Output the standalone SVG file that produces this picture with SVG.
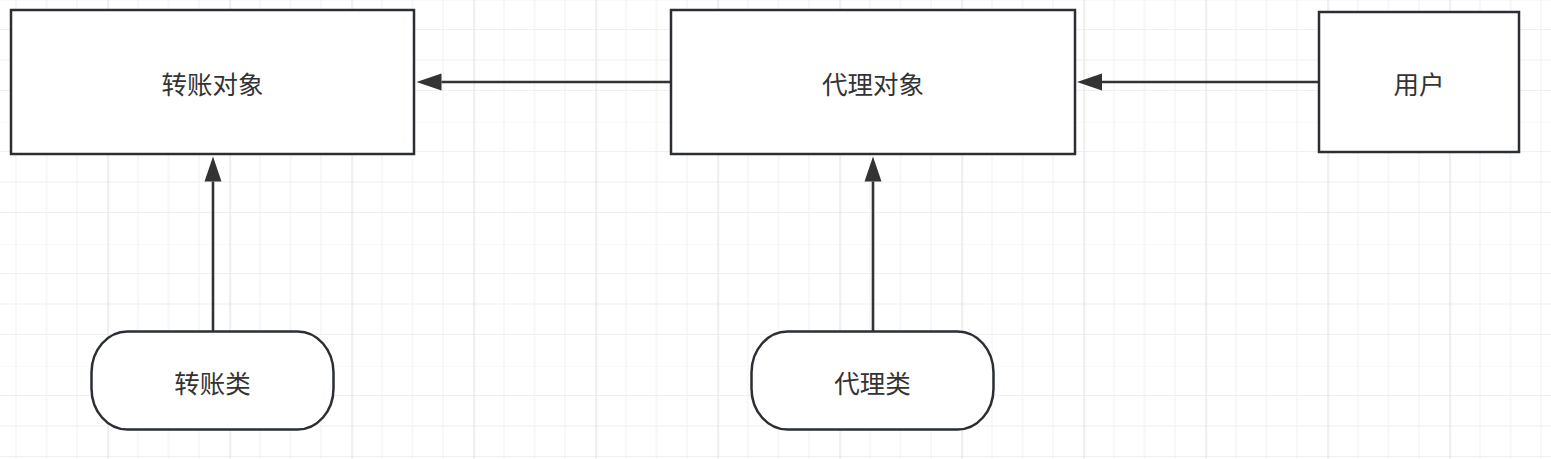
<svg xmlns="http://www.w3.org/2000/svg" width="1551" height="459" viewBox="0 0 1551 459">
<defs>
<pattern id="grid" patternUnits="userSpaceOnUse" x="-14.5" y="-1" width="122" height="122">
<rect x="30" y="0" width="1" height="122" fill="#f0f0f0"/>
<rect x="60.5" y="0" width="1" height="122" fill="#f0f0f0"/>
<rect x="91" y="0" width="1" height="122" fill="#f0f0f0"/>
<rect x="0" y="30" width="122" height="1" fill="#f0f0f0"/>
<rect x="0" y="60.5" width="122" height="1" fill="#f0f0f0"/>
<rect x="0" y="91" width="122" height="1" fill="#f0f0f0"/>
<rect x="0" y="0" width="1.2" height="122" fill="#e3e3e3"/>
<rect x="0" y="0" width="122" height="1.2" fill="#e3e3e3"/>
</pattern>
<marker id="arrow" markerUnits="userSpaceOnUse" markerWidth="26" markerHeight="18" refX="0" refY="8.5" orient="auto" overflow="visible">
<path d="M0,0 L25,8.5 L0,17 Z" fill="#333333"/>
</marker>
</defs>
<style>
.box{fill:#ffffff;stroke:#2b2f33;stroke-width:2.5}
.lbl{font-family:"Noto Sans CJK SC","Noto Sans",sans-serif;font-size:25.5px;fill:#333333;text-anchor:middle;dominant-baseline:central}
.edge{stroke:#333333;stroke-width:2.6;fill:none;marker-end:url(#arrow)}
</style>
<rect width="1551" height="459" fill="#ffffff"/>
<rect width="1551" height="459" fill="url(#grid)"/>
<g id="connectors">
<path class="edge" d="M671,82 L441.5,82"/>
<path class="edge" d="M1319,82 L1102,82"/>
<path class="edge" d="M213,331.5 L213,181.5"/>
<path class="edge" d="M873,331.5 L873,181.5"/>
</g>
<g id="node-transfer-obj">
<rect class="box" x="11" y="10" width="403" height="144"/>
<text class="lbl" x="212.5" y="82">转账对象</text>
</g>
<g id="node-proxy-obj">
<rect class="box" x="671" y="10" width="404" height="144"/>
<text class="lbl" x="873" y="82">代理对象</text>
</g>
<g id="node-user">
<rect class="box" x="1319" y="12" width="200" height="140"/>
<text class="lbl" x="1419" y="82">用户</text>
</g>
<g id="node-transfer-class">
<rect class="box" x="91.5" y="331.5" width="242" height="98" rx="36" ry="41"/>
<text class="lbl" x="212.5" y="381">转账类</text>
</g>
<g id="node-proxy-class">
<rect class="box" x="751.5" y="331.5" width="242" height="98" rx="36" ry="41"/>
<text class="lbl" x="872.5" y="381">代理类</text>
</g>
</svg>
